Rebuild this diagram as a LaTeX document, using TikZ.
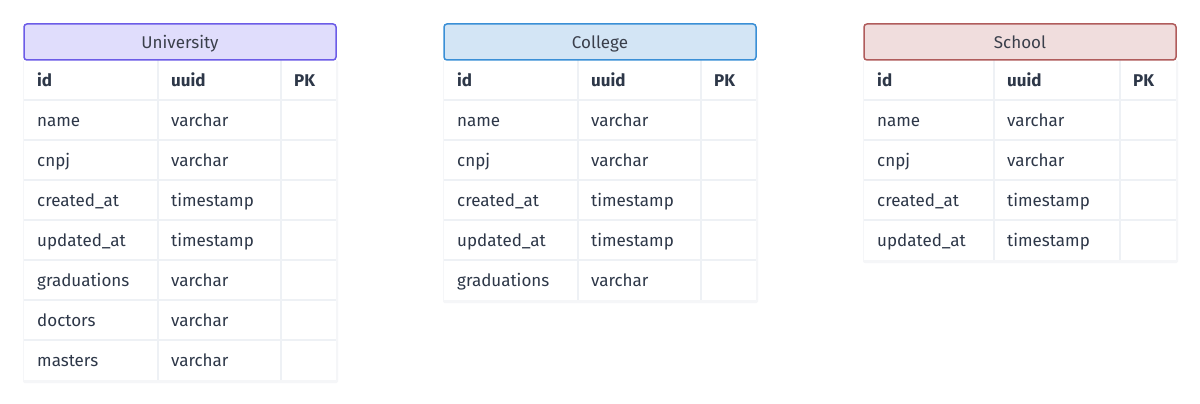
\documentclass[tikz,border=0pt]{standalone}
\usepackage{fontspec}
\setmainfont{Fira Sans}
\usetikzlibrary{positioning}

\definecolor{ink}{RGB}{45,55,72}
\definecolor{headink}{RGB}{58,63,75}
\definecolor{gridline}{RGB}{238,241,245}
\definecolor{shade}{RGB}{245,246,248}
\definecolor{univline}{RGB}{108,92,231}
\definecolor{univfill}{RGB}{224,221,252}
\definecolor{collline}{RGB}{58,143,214}
\definecolor{collfill}{RGB}{211,229,245}
\definecolor{schline}{RGB}{176,92,92}
\definecolor{schfill}{RGB}{240,221,221}

\tikzset{
  header/.style={line width=1.5pt, rounded corners=3pt},
  headtext/.style={text=headink, inner sep=0pt, text height=11pt, text depth=3pt,
    font=\fontsize{17}{19}\selectfont},
  cell/.style={anchor=west, inner sep=0pt, text=ink, text height=11pt, text depth=3pt,
    font=\fontsize{17}{19}\selectfont},
  keycell/.style={cell, font=\fontsize{17}{19}\selectfont\bfseries},
  grid/.style={draw=gridline, line width=2pt},
  body/.style={fill=white},
  shadow/.style={fill=shade, rounded corners=2pt},
}

\begin{document}
\begin{tikzpicture}[x=1pt, y=-1pt]
  \useasboundingbox[fill=white] (0,0) rectangle (1200,404);

  % University
  \fill[shadow] (23,60) rectangle (338,383);
  \fill[body] (24,60) rectangle (336,380);
  \draw[grid] (158,60) -- (158,380);
  \draw[grid] (281,60) -- (281,380);
  \foreach \y in {100,140,...,340}
    \draw[grid] (24,\y) -- (336,\y);
  \draw[header, draw=univline, fill=univfill] (24,24) rectangle (336,60);
  \node[headtext] (univ) at (180,44.5) {University};
  \node[keycell] (univ-id) at (37,82) {id};
  \node[keycell] (univ-uuid) at (171,82) {uuid};
  \node[keycell] (univ-pk) at (294,82) {PK};
  \foreach \f/\t [count=\i] in {name/varchar, cnpj/varchar, created\_at/timestamp,
      updated\_at/timestamp, graduations/varchar, doctors/varchar, masters/varchar} {
    \node[cell] (univ-f\i) at (37,{82+40*\i}) {\f};
    \node[cell] (univ-t\i) at (171,{82+40*\i}) {\t};
  }

  % College
  \fill[shadow] (443,60) rectangle (758,303);
  \fill[body] (444,60) rectangle (756,300);
  \draw[grid] (578,60) -- (578,300);
  \draw[grid] (701,60) -- (701,300);
  \foreach \y in {100,140,...,260}
    \draw[grid] (444,\y) -- (756,\y);
  \draw[header, draw=collline, fill=collfill] (444,24) rectangle (756,60);
  \node[headtext] (coll) at (600,44.5) {College};
  \node[keycell] (coll-id) at (457,82) {id};
  \node[keycell] (coll-uuid) at (591,82) {uuid};
  \node[keycell] (coll-pk) at (714,82) {PK};
  \foreach \f/\t [count=\i] in {name/varchar, cnpj/varchar, created\_at/timestamp,
      updated\_at/timestamp, graduations/varchar} {
    \node[cell] (coll-f\i) at (457,{82+40*\i}) {\f};
    \node[cell] (coll-t\i) at (591,{82+40*\i}) {\t};
  }

  % School
  \fill[shadow] (863,60) rectangle (1178,263);
  \fill[body] (864,60) rectangle (1176,260);
  \draw[grid] (994,60) -- (994,260);
  \draw[grid] (1120,60) -- (1120,260);
  \foreach \y in {100,140,...,220}
    \draw[grid] (864,\y) -- (1176,\y);
  \draw[header, draw=schline, fill=schfill] (864,24) rectangle (1176,60);
  \node[headtext] (sch) at (1020,44.5) {School};
  \node[keycell] (sch-id) at (877,82) {id};
  \node[keycell] (sch-uuid) at (1007,82) {uuid};
  \node[keycell] (sch-pk) at (1133,82) {PK};
  \foreach \f/\t [count=\i] in {name/varchar, cnpj/varchar, created\_at/timestamp,
      updated\_at/timestamp} {
    \node[cell] (sch-f\i) at (877,{82+40*\i}) {\f};
    \node[cell] (sch-t\i) at (1007,{82+40*\i}) {\t};
  }
\end{tikzpicture}
\end{document}
